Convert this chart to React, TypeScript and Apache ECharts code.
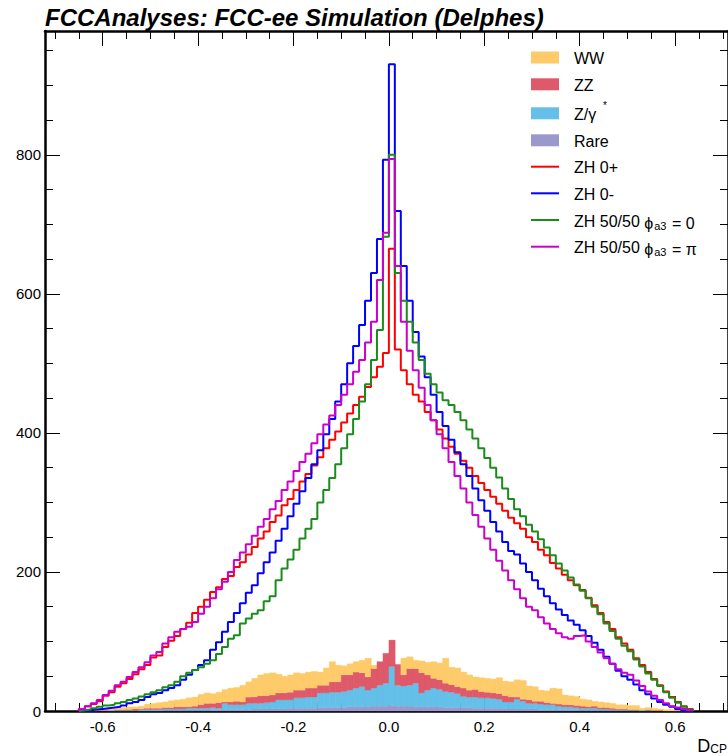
import React, { useEffect, useRef } from "react";
import * as echarts from "echarts";

// Histogram binning (data): 103 bins of width 0.0125 starting at -0.65
const BIN_WIDTH = 0.0125;
const FIRST_EDGE = -0.65;
const X_MIN = -0.721;
const X_MAX = 0.711;
const Y_MAX = 978;

const zh0plus = [
  3, 7, 10, 14, 22, 27, 35, 40, 46, 53,
  60, 66, 77, 80, 92, 101, 108, 118, 127, 141,
  150, 160, 171, 178, 190, 194, 207, 214, 225, 236,
  248, 258, 272, 281, 296, 305, 318, 330, 341, 353,
  365, 378, 390, 402, 415, 428, 440, 452, 466, 480,
  495, 515,
  665,
  520, 490, 470, 455, 445, 430, 418, 405, 392, 380,
  370, 360, 350, 338, 328, 318, 308, 298, 288, 278,
  270, 262, 250, 243, 232, 224, 213, 205, 196, 188,
  181, 174, 163, 152, 141, 128, 118, 106, 97, 88,
  76, 66, 56, 46, 37, 28, 20, 13, 7, 3,
];
const zh0minus = [
  0, 1, 2, 3, 4, 5, 6, 8, 11, 13,
  16, 20, 24, 26, 30, 33, 37, 45, 52, 59,
  66, 73, 88, 99, 114, 128, 141, 155, 170, 181,
  198, 214, 228, 245, 262, 280, 298, 316, 335, 355,
  375, 398, 420, 445, 470, 500, 525, 555, 590, 630,
  679, 793,
  930,
  719, 640, 590, 545, 510, 480, 455, 430, 410, 390,
  372, 355, 338, 320, 303, 288, 272, 258, 243, 230,
  225, 212, 200, 188, 176, 165, 155, 146, 138, 130,
  124, 116, 108, 98, 88, 78, 68, 58, 50, 45,
  38, 30, 24, 18, 13, 9, 6, 3, 1, 0,
];
const zhMixPhi0 = [
  1, 2, 4, 6, 8, 9, 11, 13, 16, 18,
  21, 24, 27, 30, 34, 37, 42, 50, 55, 59,
  63, 68, 73, 82, 92, 104, 109, 126, 133, 140,
  145, 158, 165, 188, 205, 218, 232, 248, 262, 276,
  300, 318, 335, 355, 378, 398, 420, 445, 470, 505,
  548, 682,
  800,
  630, 590, 560, 530, 505, 485, 470, 458, 447, 440,
  430, 418, 405, 392, 378, 364, 350, 336, 320, 305,
  290, 280, 268, 258, 247, 235, 224, 212, 202, 192,
  182, 173, 162, 150, 139, 126, 115, 104, 94, 86,
  74, 64, 54, 45, 36, 27, 19, 12, 6, 2,
];
const zhMixPhiPi = [
  3, 7, 11, 16, 23, 29, 37, 42, 49, 56,
  63, 70, 80, 85, 97, 106, 114, 118, 121, 128,
  140, 150, 162, 175, 186, 200, 217, 228, 240, 252,
  265, 276, 290, 302, 318, 330, 345, 358, 370, 385,
  398, 412, 425, 440, 455, 470, 488, 505, 530, 560,
  620, 688,
  794,
  640, 560, 518, 490, 465, 440, 418, 398, 378, 358,
  338, 320, 300, 282, 265, 248, 232, 216, 202, 188,
  175, 162, 150, 145, 135, 126, 118, 112, 106, 104,
  108, 109, 100, 92, 84, 76, 68, 60, 55, 52,
  44, 36, 28, 22, 16, 11, 7, 5, 3, 1,
];

const bgRare = [
  0, 0, 0, 0, 0, 0, 0, 0, 0, 0,
  0, 0, 0, 0, 1, 1, 1, 1, 1, 1,
  1, 1, 2, 2, 2, 2, 2, 2, 2, 3,
  3, 3, 3, 3, 3, 4, 4, 4, 4, 4,
  5, 5, 5, 5, 5, 6, 6, 6, 6, 7,
  7, 7,
  8,
  7, 7, 7, 6, 6, 6, 6, 6, 5, 5,
  5, 5, 5, 4, 4, 4, 4, 4, 3, 3,
  3, 3, 3, 3, 2, 2, 2, 2, 2, 2,
  2, 1, 1, 1, 1, 1, 1, 1, 1, 0,
  0, 0, 0, 0, 0, 0, 0, 0, 0, 0,
];
const bgZgamma = [
  0, 0, 0, 0, 0, 1, 1, 1, 1, 1,
  2, 2, 2, 2, 2, 2, 2, 2, 3, 3,
  3, 3, 3, 2, 9, 7, 7, 7, 9, 8,
  8, 9, 10, 13, 13, 12, 15, 15, 16, 16,
  21, 21, 22, 22, 23, 24, 27, 29, 24, 26,
  30, 33,
  56,
  30, 29, 30, 34, 20, 24, 27, 25, 23, 22,
  20, 16, 15, 16, 15, 15, 14, 13, 10, 10,
  14, 11, 8, 8, 8, 7, 7, 5, 4, 4,
  3, 3, 3, 3, 2, 2, 1, 1, 1, 1,
  1, 1, 1, 0, 0, 0, 0, 0, 0, 0,
];
const bgZZ = [
  0, 0, 0, 1, 1, 0, 1, 1, 1, 2,
  1, 2, 2, 2, 2, 2, 3, 3, 2, 3,
  5, 7, 6, 8, 2, 4, 5, 4, 9, 9,
  11, 10, 10, 10, 10, 11, 11, 11, 13, 13,
  11, 11, 15, 15, 24, 22, 23, 20, 19, 28,
  34, 43,
  38,
  30, 16, 24, 21, 29, 22, 14, 14, 12, 11,
  10, 12, 10, 11, 9, 8, 8, 8, 9, 7,
  3, 3, 5, 3, 4, 3, 2, 3, 3, 3,
  3, 3, 2, 3, 2, 2, 2, 1, 1, 1,
  1, 0, 1, 1, 1, 0, 0, 0, 0, 0,
];
const bgWW = [
  0, 1, 1, 1, 2, 2, 2, 3, 4, 3,
  4, 6, 7, 8, 8, 10, 10, 11, 13, 13,
  15, 15, 14, 15, 18, 20, 20, 24, 22, 27,
  30, 32, 32, 27, 24, 25, 25, 24, 23, 24,
  19, 25, 29, 24, 13, 16, 15, 18, 27, 5,
  0, 0,
  0,
  0, 24, 17, 12, 17, 18, 24, 24, 36, 25,
  27, 23, 22, 18, 20, 20, 20, 23, 21, 22,
  25, 27, 20, 21, 16, 17, 22, 22, 14, 13,
  13, 10, 10, 7, 8, 7, 7, 6, 6, 6,
  6, 3, 3, 3, 2, 2, 2, 1, 1, 0,
];

const FONT = "'Liberation Sans', Arial, Helvetica, sans-serif";

function binEdge(i: number) {
  return FIRST_EDGE + i * BIN_WIDTH;
}

function histPoints(values: number[]): number[][] {
  const pts: number[][] = [];
  const n = values.length;
  pts.push([binEdge(0), 0]);
  for (let i = 0; i < n; i++) pts.push([binEdge(i), values[i]]);
  pts.push([binEdge(n), values[n - 1]]);
  pts.push([binEdge(n), 0]);
  return pts;
}

// stacking order, bottom to top
const backgrounds = [
  { name: "Rare", values: bgRare, color: "#9b99cc" },
  { name: "Z/γ*", values: bgZgamma, color: "#64c0e8" },
  { name: "ZZ", values: bgZZ, color: "#de5a6a" },
  { name: "WW", values: bgWW, color: "#fecb6a" },
];
const signals = [
  { name: "ZH 0+", values: zh0plus, color: "#ff0000" },
  { name: "ZH 0-", values: zh0minus, color: "#0000ff" },
  { name: "ZH 50/50 phi=0", values: zhMixPhi0, color: "#1b8c1b" },
  { name: "ZH 50/50 phi=pi", values: zhMixPhiPi, color: "#cc00cc" },
];

export default function App() {
  const ref = useRef<HTMLDivElement>(null);
  useEffect(() => {
    if (!ref.current) return;
    const chart = echarts.init(ref.current, null, { renderer: "svg" });

    const axisCommon = {
      type: "value" as const,
      axisLine: { show: true, onZero: false, lineStyle: { color: "#000", width: 2.5 } },
      axisTick: { show: true, inside: true, length: 15, lineStyle: { color: "#000", width: 1 } },
      minorTick: { show: true, splitNumber: 4, length: 8, lineStyle: { color: "#000", width: 1 } },
      splitLine: { show: false },
    };

    const stackData: any[] = [];
    const n = bgRare.length;
    for (let i = 0; i < n; i++) {
      let base = 0;
      backgrounds.forEach((b, k) => {
        const top = base + b.values[i];
        if (b.values[i] > 0) stackData.push([binEdge(i), binEdge(i + 1), base, top, k]);
        base = top;
      });
    }

    const series: any[] = [
      {
        type: "custom",
        name: "backgrounds",
        silent: true,
        z: 1,
        data: stackData,
        encode: { x: [0, 1], y: [2, 3] },
        renderItem: (params: any, api: any) => {
          const lo = api.value(0);
          const hi = api.value(1);
          const base = api.value(2);
          const top = api.value(3);
          const k = api.value(4);
          const p1 = api.coord([lo, top]);
          const p2 = api.coord([hi, base]);
          const color = backgrounds[k].color;
          return {
            type: "rect",
            shape: { x: p1[0], y: p1[1], width: p2[0] - p1[0] + 0.4, height: p2[1] - p1[1] },
            style: { fill: color, stroke: color, lineWidth: 0.3 },
          };
        },
      },
    ];
    signals.forEach((s) => {
      series.push({
        type: "line",
        name: s.name,
        step: "end",
        data: histPoints(s.values),
        symbol: "none",
        lineStyle: { width: 2, color: s.color },
        itemStyle: { color: s.color },
        silent: true,
        z: 3,
      });
    });

    const legendRows = [
      { kind: "box", color: backgrounds[3].color, y: 57.5, text: "WW" },
      { kind: "box", color: backgrounds[2].color, y: 84.3, text: "ZZ" },
      { kind: "box", color: backgrounds[1].color, y: 113.3, text: "Z/γ", sup: "*" },
      { kind: "box", color: backgrounds[0].color, y: 140.3, text: "Rare" },
      { kind: "line", color: signals[0].color, y: 166.7, text: "ZH 0+" },
      { kind: "line", color: signals[1].color, y: 193.3, text: "ZH 0-" },
      { kind: "line", color: signals[2].color, y: 220, text: "ZH 50/50 {m|ϕ}{s|a3}{m| = 0}" },
      { kind: "line", color: signals[3].color, y: 246.7, text: "ZH 50/50 {m|ϕ}{s|a3}{m| = π}" },
    ];
    const graphics: any[] = [];
    legendRows.forEach((r: any) => {
      if (r.kind === "box") {
        graphics.push({ type: "rect", shape: { x: 531, y: r.y - 6, width: 28, height: 12 }, style: { fill: r.color }, z: 10 });
      } else {
        graphics.push({ type: "line", shape: { x1: 531, y1: r.y, x2: 559, y2: r.y }, style: { stroke: r.color, lineWidth: 2 }, z: 10 });
      }
      graphics.push({
        type: "text",
        x: 574,
        y: r.y + 1,
        z: 10,
        style: {
          text: r.text,
          fill: "#000",
          fontSize: 16,
          fontFamily: FONT,
          verticalAlign: "middle",
          align: "left",
          rich: {
            m: { fontSize: 16, fontFamily: FONT, lineHeight: 20, verticalAlign: "bottom" },
            s: { fontSize: 11, fontFamily: FONT, lineHeight: 16, verticalAlign: "bottom", padding: [0, 1, 0, 1] },
          },
        },
      });
      if (r.sup) {
        graphics.push({ type: "text", x: 603, y: r.y - 8, z: 10, style: { text: r.sup, fill: "#000", fontSize: 10, fontFamily: FONT, verticalAlign: "middle" } });
      }
    });

    graphics.push({
      type: "text",
      x: 45,
      y: 29,
      style: {
        text: "FCCAnalyses: FCC-ee Simulation (Delphes)",
        fill: "#000",
        fontSize: 24,
        fontWeight: "bold",
        fontStyle: "italic",
        fontFamily: FONT,
        verticalAlign: "bottom",
      },
    });
    graphics.push({
      type: "text",
      x: 727,
      y: 755,
      style: {
        text: "{d|D}{s|CP}",
        fill: "#000",
        align: "right",
        verticalAlign: "bottom",
        rich: {
          d: { fontSize: 18, fontFamily: FONT, lineHeight: 22, verticalAlign: "bottom" },
          s: { fontSize: 12, fontFamily: FONT, lineHeight: 16, verticalAlign: "bottom" },
        },
      },
    });

    chart.setOption({
      animation: false,
      backgroundColor: "#fff",
      grid: { left: 45, top: 31, right: 0, bottom: 45, containLabel: false },
      xAxis: [
        {
          ...axisCommon,
          min: X_MIN,
          max: X_MAX,
          splitNumber: 7,
          position: "bottom",
          axisLabel: {
            show: true, showMinLabel: false, showMaxLabel: false,
            fontSize: 15, fontFamily: FONT, color: "#000", margin: 8,
            formatter: (v: number) => v.toFixed(1),
          },
        },
        {
          ...axisCommon,
          min: X_MIN,
          max: X_MAX,
          splitNumber: 7,
          position: "top",
          axisLabel: { show: false },
        },
      ],
      yAxis: [
        {
          ...axisCommon,
          min: 0,
          max: Y_MAX,
          splitNumber: 5,
          position: "left",
          axisLabel: { show: true, showMaxLabel: false, fontSize: 15, fontFamily: FONT, color: "#000", margin: 4 },
        },
        {
          ...axisCommon,
          min: 0,
          max: Y_MAX,
          splitNumber: 5,
          position: "right",
          axisLabel: { show: false },
        },
      ],
      series,
      graphic: graphics,
    });
    return () => chart.dispose();
  }, []);
  return (
    <div
      ref={ref}
      style={{ position: "absolute", left: 0, top: 0, width: 728, height: 756 }}
    />
  );
}
